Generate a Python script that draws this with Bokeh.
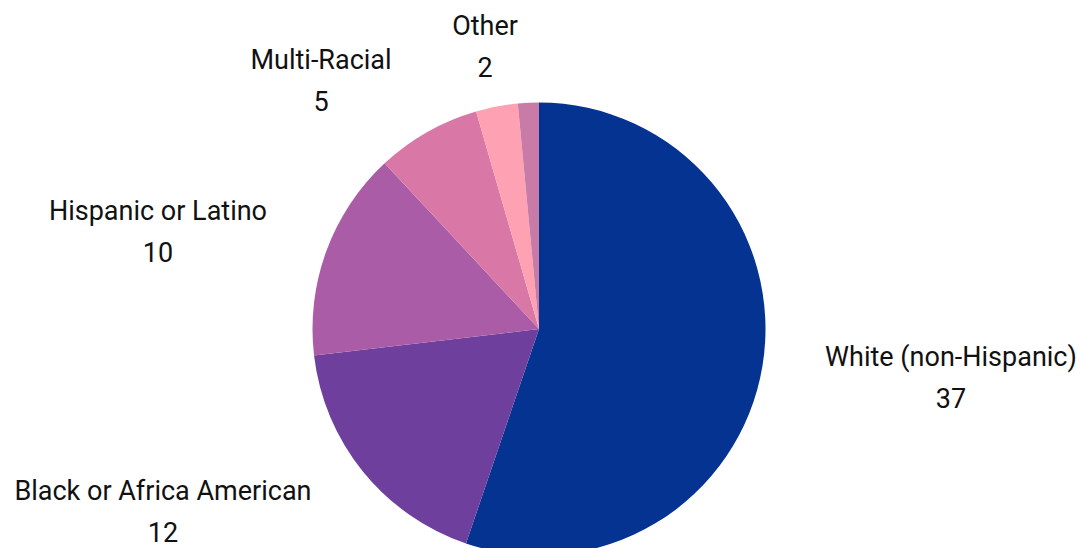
import math
from bokeh.plotting import figure
from bokeh.models import Range1d, ColumnDataSource
from bokeh.core.properties import value
from bokeh.embed import file_html
from bokeh.resources import INLINE

# ---- data ----
categories = ["White (non-Hispanic)", "Black or Africa American", "Hispanic or Latino",
              "Multi-Racial", "Other", ""]
counts = [37, 12, 10, 5, 2, 1]
colors = ["#053391", "#6e3f9c", "#aa5ca6", "#d977a6", "#fda1b3", "#c97ba8"]

# ---- layout ----
W, H = 1082, 548
cx, cy, R = 538.5, 548 - 328.5, 226.5
# label anchor (distance from centre in px, angle in degrees, counter-clockwise from +x)
label_polar = [(414.8, -6.65), (418.2, -154.05), (393.3, 165.65),
               (330.9, 131.2), (288.1, 100.8), None]
line_gap = 20.5
FONT = "Roboto"

total = sum(counts)
starts, ends = [], []
cum = 0.0
for c in counts:
    a0 = math.pi / 2 - 2 * math.pi * (cum + c) / total
    a1 = math.pi / 2 - 2 * math.pi * cum / total
    starts.append(a0)
    ends.append(a1)
    cum += c

src = ColumnDataSource(dict(x=[cx] * len(counts), y=[cy] * len(counts),
                            start=starts, end=ends, color=colors))

p = figure(width=W, height=H, x_range=Range1d(0, W), y_range=Range1d(0, H),
           output_backend="svg", toolbar_location=None, min_border=0)
p.axis.visible = False
p.grid.visible = False
p.outline_line_color = None
p.background_fill_color = "white"

p.wedge(x="x", y="y", radius=R, start_angle="start", end_angle="end",
        fill_color="color", line_color=None, source=src)

lx, ly_name, ly_val, names, vals = [], [], [], [], []
for cat, c, lp in zip(categories, counts, label_polar):
    if lp is None:
        continue
    d, th = lp
    x = cx + d * math.cos(math.radians(th))
    y = cy + d * math.sin(math.radians(th))
    lx.append(x)
    ly_name.append(y + line_gap)
    ly_val.append(y - line_gap)
    names.append(cat)
    vals.append(str(c))

p.text(x=lx, y=ly_name, text=names, text_align="center", text_baseline="middle",
       text_font=value(FONT), text_font_size="27px", text_color="#111111")
p.text(x=lx, y=ly_val, text=vals, text_align="center", text_baseline="middle",
       text_font=value(FONT), text_font_size="27px", text_color="#111111")

open("out.html", "w").write(file_html(p, INLINE))
